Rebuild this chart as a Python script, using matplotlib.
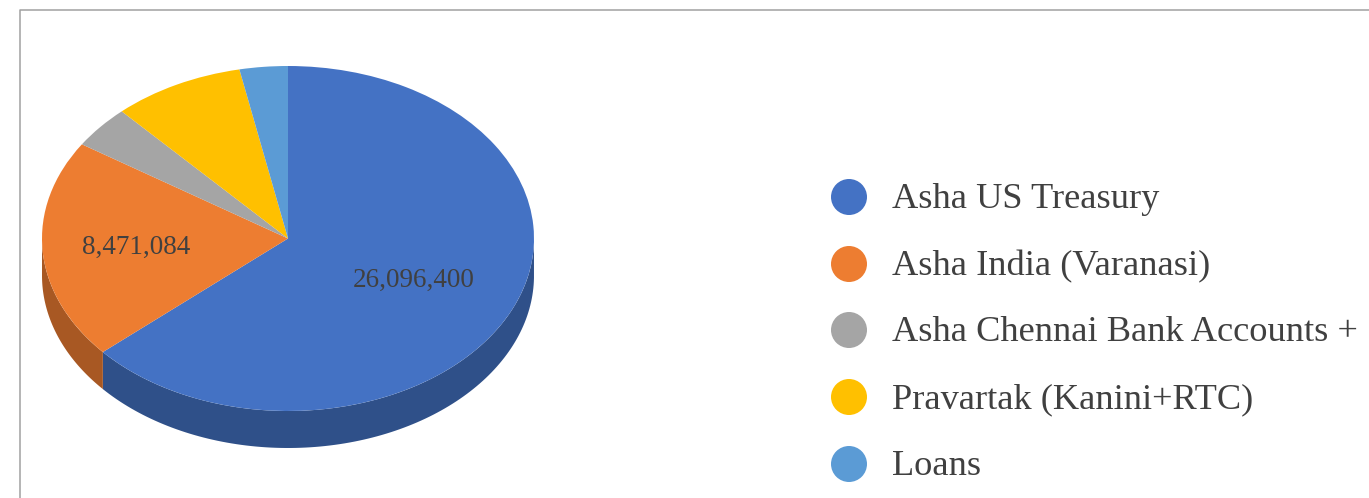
import numpy as np
import matplotlib
matplotlib.use('Agg')
import matplotlib.pyplot as plt
from matplotlib.patches import Ellipse

W, H = 1369, 498

labels = ['Asha US Treasury', 'Asha India (Varanasi)', 'Asha Chennai Bank Accounts +',
          'Pravartak (Kanini+RTC)', 'Loans']
values = [26096400, 8471084, 1640000, 3550000, 1300000]
colors = ['#4472C4', '#ED7D31', '#A5A5A5', '#FFC000', '#5B9BD5']
side_colors = ['#2F5089', '#A85823', '#747474', '#B38600', '#3F6D96']
shown = ['26,096,400', '8,471,084', None, None, None]

plt.rcParams['font.family'] = ['Liberation Serif', 'DejaVu Serif']

fig = plt.figure(figsize=(W / 100, H / 100), dpi=100, facecolor='white')
# one axes over the whole figure, in image pixels
ax = fig.add_axes([0, 0, 1, 1])

cx, cy, rx, ry, depth = 288, 238.5, 246, 172.5, 37

wedges, _ = ax.pie(values, colors=colors, startangle=90, counterclock=False,
                   center=(0, 0), radius=1, wedgeprops={'linewidth': 0})
for w in wedges:
    w.set_transform(matplotlib.transforms.Affine2D().scale(rx, -ry).translate(cx, cy) + ax.transData)

# side of the pie: only the front part shows
edges = np.concatenate([[0], np.cumsum(values)]) / sum(values) * 2 * np.pi
for i in range(len(values)):
    t = np.linspace(edges[i], edges[i + 1], 200)
    # front half is sin/cos measured clockwise from the top
    t = t[(t >= np.pi / 2) & (t <= 3 * np.pi / 2)]
    if len(t) < 2:
        continue
    x = cx + rx * np.sin(t)
    y = cy - ry * np.cos(t)
    ax.fill(np.r_[x, x[::-1]], np.r_[y, y[::-1] + depth], color=side_colors[i], lw=0, zorder=0.5)

ax.set_aspect('auto')
ax.set_xlim(0, W)
ax.set_ylim(H, 0)
ax.axis('off')

# chart frame, no right edge in the crop
ax.plot([20, 20, W], [H, 9.7, 9.7], color='#A0A0A0', lw=1.1, clip_on=False)

ax.text(136, 247, shown[1], fontsize=19.5, color='#404040', ha='center', va='center')
ax.text(413.5, 280, shown[0], fontsize=19.5, color='#404040', ha='center', va='center')

# legend
legend_y = [197, 264, 330, 397, 464]
for name, c, y in zip(labels, colors, legend_y):
    ax.add_patch(Ellipse((849, y), 36, 36, color=c, lw=0))
    ax.text(892, y + 2.5, name, fontsize=26.2, color='#404040', ha='left', va='center')

fig.savefig('out.png', dpi=100, facecolor='white')
